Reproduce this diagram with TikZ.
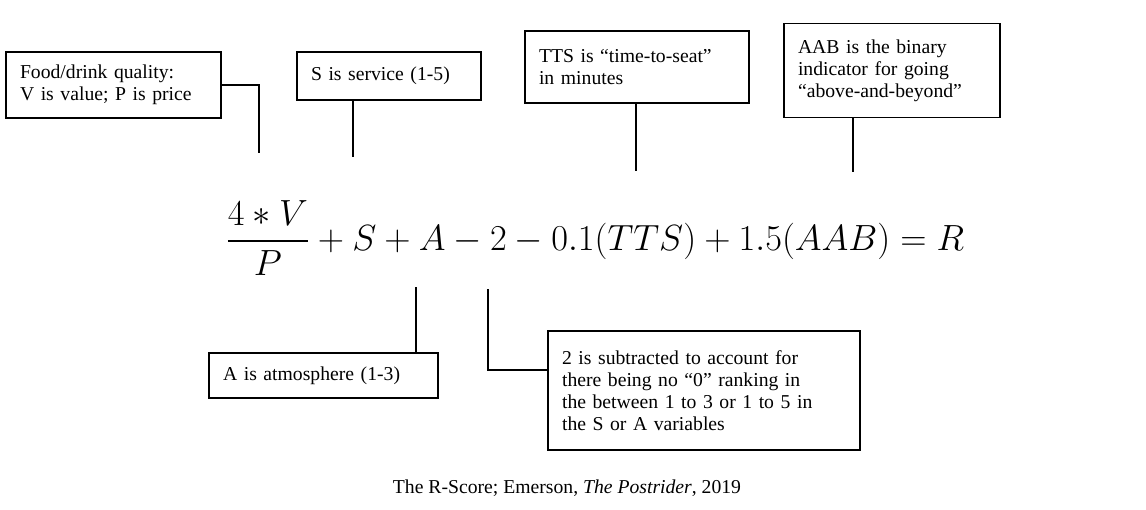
\documentclass[tikz,border=0pt]{standalone}
\usepackage{fontspec}
\setmainfont{Liberation Serif}
\usepackage{amsmath}
\usetikzlibrary{positioning}

\tikzset{
  note/.style={draw, thick, align=left, inner xsep=0.28cm, font=\fontsize{11.2}{12.4}\selectfont},
  lead/.style={thick}
}

\begin{document}
\begin{tikzpicture}[x=0.02cm, y=-0.02cm]
        \useasboundingbox (0,0) rectangle (1146,510);
        \node (food) [note, minimum width=4.3cm, minimum height=1.32cm, text width=3.74cm] at (113.5,85) {Food/drink quality:\\V is value; P is price};
        \node (serv) [note, minimum width=3.68cm, minimum height=0.96cm, text width=3.12cm] at (389,76) {S is service (1-5)};
        \node (tts) [note, minimum width=4.48cm, minimum height=1.44cm, text width=3.92cm] at (637,67) {TTS is “time-to-seat”\\in minutes};
        \node (aab) [note, minimum width=4.32cm, minimum height=1.88cm, text width=3.76cm, anchor=north] at (892,23) {AAB is the binary\\indicator for going\\“above-and-beyond”};
        \node (atm) [note, minimum width=4.58cm, minimum height=0.9cm, text width=4.02cm] at (323.5,375.5) {A is atmosphere (1-3)};
        \node (two) [note, minimum width=6.24cm, minimum height=2.38cm, text width=5.68cm] at (704,390.5) {2 is subtracted to account for\\there being no “0” ranking in\\the between 1 to 3 or 1 to 5 in\\the S or A variables};
        \node (eq) at (595,238) {\fontsize{21}{25}\selectfont$\dfrac{4*V}{P}+S+A-2-0.1(TTS)+1.5(AAB)=R$};
        \node (cap) at (567,488) {\fontsize{11.2}{13}\selectfont The R-Score; Emerson, \textit{The Postrider}, 2019};
        \coordinate (cf) at (259,153);
        \coordinate (cs) at (353,157);
        \coordinate (ct) at (636,171);
        \coordinate (cb) at (853,172);
        \coordinate (ca) at (416,287);
        \coordinate (c2) at (488,289);
        \draw [lead] (food.east) -| (cf);
        \draw [lead] (serv.south -| cs) -- (cs);
        \draw [lead] (tts.south -| ct) -- (ct);
        \draw [lead] (aab.south -| cb) -- (cb);
        \draw [lead] (atm.north -| ca) -- (ca);
        \draw [lead] (c2) |- (two.west |- 0,370);
\end{tikzpicture}
\end{document}
